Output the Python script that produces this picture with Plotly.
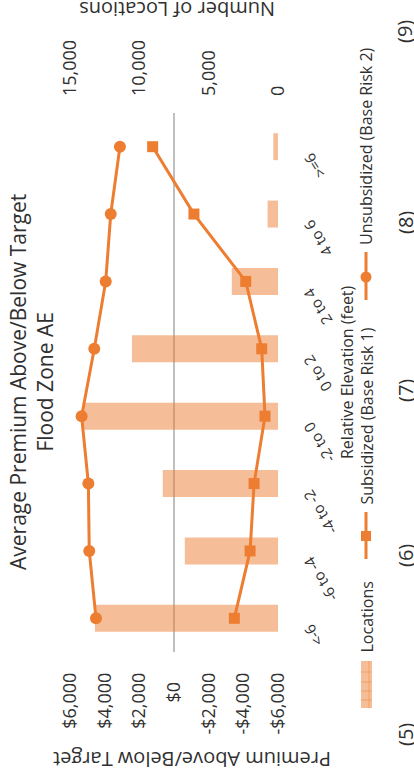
import plotly.graph_objects as go

categories = ["<-6", "-6 to -4", "-4 to -2", "-2 to 0", "0 to 2", "2 to 4", "4 to 6", ">=6"]
locations = [13200, 6720, 8310, 14080, 10530, 3330, 750, 340]
subsidized = [-3480, -4390, -4620, -5250, -5060, -4140, -1150, 1230]
unsubsidized = [4500, 4890, 4940, 5330, 4600, 3940, 3650, 3120]

premium_ticks = [6000, 4000, 2000, 0, -2000, -4000, -6000]
premium_text = ["$6,000", "$4,000", "$2,000", "$0\u00a0\u00a0", "-$2,000", "-$4,000", "-$6,000"]
loc_ticks = [0, 5000, 10000, 15000]
loc_text = ["0", "5,000", "10,000", "15,000"]
side_labels = ["(5)", "(6)", "(7)", "(8)", "(9)"]

W, H = 414, 780
L, R, T, B = 70, 278, 113, 652
FONT = "Open Sans"
TXT = "#303030"
ORANGE = "#ED7D31"
BAR = "rgba(237,125,49,0.5)"


def px(x):
    return (x - L) / (R - L)


def py(y):
    return (B - y) / (B - T)


fig = go.Figure()
fig.add_trace(go.Bar(
    y=categories, x=locations, orientation="h", xaxis="x", yaxis="y",
    marker=dict(color=BAR, line=dict(width=0)), width=0.4, name="Locations",
    showlegend=False,
))
fig.add_trace(go.Scatter(
    y=categories, x=subsidized, xaxis="x2", yaxis="y", mode="lines+markers",
    line=dict(color=ORANGE, width=3), marker=dict(symbol="square", size=11, color=ORANGE),
    name="Subsidized (Base Risk 1)", showlegend=False,
))
fig.add_trace(go.Scatter(
    y=categories, x=unsubsidized, xaxis="x2", yaxis="y", mode="lines+markers",
    line=dict(color=ORANGE, width=3), marker=dict(symbol="circle", size=12, color=ORANGE),
    name="Unsubsidized (Base Risk 2)", showlegend=False,
))

ann = []
# title
ann.append(dict(text="Average Premium Above/Below Target<br>Flood Zone AE", textangle=-90,
                x=px(31), y=py(382), xref="paper", yref="paper", showarrow=False,
                xanchor="center", yanchor="middle", font=dict(size=21, color=TXT, family=FONT)))
# axis titles (upside down)
ann.append(dict(text="Premium Above/Below Target", textangle=180, x=px(192), y=py(760),
                xref="paper", yref="paper", showarrow=False, xanchor="center", yanchor="middle",
                font=dict(size=20, color=TXT, family=FONT)))
ann.append(dict(text="Number of Locations", textangle=180, x=px(177), y=py(10),
                xref="paper", yref="paper", showarrow=False, xanchor="center", yanchor="middle",
                font=dict(size=20, color=TXT, family=FONT)))
ann.append(dict(text="Relative Elevation (feet)", textangle=-90, x=px(347), y=py(372),
                xref="paper", yref="paper", showarrow=False, xanchor="center", yanchor="middle",
                font=dict(size=16, color=TXT, family=FONT)))
# category labels
for c in categories:
    ann.append(dict(text=c, textangle=-122, x=px(296), y=c, xref="paper", yref="y",
                    showarrow=False, xanchor="left", yanchor="top",
                    font=dict(size=15, color=TXT, family=FONT)))
# legend texts
for t, yb in [("Locations", 655), ("Subsidized (Base Risk 1)", 507), ("Unsubsidized (Base Risk 2)", 247)]:
    ann.append(dict(text=t, textangle=-90, x=px(366), y=py(yb), xref="paper", yref="paper",
                    showarrow=False, xanchor="center", yanchor="bottom",
                    font=dict(size=16, color=TXT, family=FONT)))
# side labels
for t, yc in zip(side_labels, [735, 556, 391, 223, 32]):
    ann.append(dict(text=t, textangle=-90, x=px(405), y=py(yc), xref="paper", yref="paper",
                    showarrow=False, xanchor="center", yanchor="middle",
                    font=dict(size=20, color=TXT, family=FONT)))

shapes = []
# legend: locations patch
shapes.append(dict(type="rect", xref="paper", yref="paper", x0=px(361), x1=px(372), y0=py(708), y1=py(661),
                   fillcolor=BAR, line=dict(width=0)))
for yy in [672, 682, 691, 700]:
    shapes.append(dict(type="line", xref="paper", yref="paper", x0=px(361), x1=px(372), y0=py(yy), y1=py(yy),
                       line=dict(color="rgba(237,125,49,0.45)", width=1)))
shapes.append(dict(type="line", xref="paper", yref="paper", x0=px(369), x1=px(369), y0=py(708), y1=py(661),
                   line=dict(color="rgba(237,125,49,0.45)", width=1)))
# legend: subsidized
shapes.append(dict(type="line", xref="paper", yref="paper", x0=px(366), x1=px(366), y0=py(559), y1=py(512),
                   line=dict(color=ORANGE, width=3)))
shapes.append(dict(type="rect", xref="paper", yref="paper", x0=px(361), x1=px(371), y0=py(541), y1=py(531),
                   fillcolor=ORANGE, line=dict(width=0)))
# legend: unsubsidized
shapes.append(dict(type="line", xref="paper", yref="paper", x0=px(366), x1=px(366), y0=py(300), y1=py(252),
                   line=dict(color=ORANGE, width=3)))
shapes.append(dict(type="circle", xref="paper", yref="paper", x0=px(360.5), x1=px(371.5), y0=py(282.5), y1=py(271.5),
                   fillcolor=ORANGE, line=dict(width=0)))

fig.update_layout(
    width=W, height=H, autosize=False,
    margin=dict(l=L, r=W - R, t=T, b=H - B, pad=0, autoexpand=False),
    paper_bgcolor="white", plot_bgcolor="white",
    font=dict(family=FONT, color=TXT),
    showlegend=False,
    xaxis=dict(range=[15000, 0], side="top", tickmode="array", tickvals=loc_ticks, ticktext=loc_text,
               tickangle=-90, showgrid=False, zeroline=False, showline=False, ticks="", automargin=False,
               ticklabelstandoff=16, tickfont=dict(size=18, color=TXT, family=FONT)),
    xaxis2=dict(range=[6000, -6000], overlaying="x", side="bottom", tickmode="array", automargin=False,
                tickvals=premium_ticks, ticktext=premium_text, tickangle=-90, showgrid=False,
                zeroline=True, zerolinecolor="#BFBFBF", zerolinewidth=1.5, showline=False, ticks="",
                ticklabelstandoff=16, tickfont=dict(size=18, color=TXT, family=FONT)),
    yaxis=dict(type="category", categoryorder="array", categoryarray=categories, range=[-0.5, 7.5],
               automargin=False,
               showticklabels=False, showgrid=False, zeroline=False, showline=False, ticks=""),
    annotations=ann, shapes=shapes,
)

fig.write_html(
    "out.html",
    config={"displayModeBar": False, "staticPlot": True},
    post_script="document.body.style.margin='0';document.body.style.padding='0';document.body.style.overflow='hidden';",
)
